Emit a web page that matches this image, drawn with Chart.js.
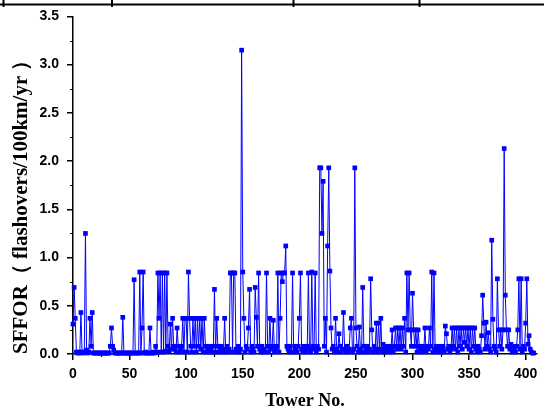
<!DOCTYPE html>
<html>
<head>
<meta charset="utf-8">
<script src="https://cdn.jsdelivr.net/npm/chart.js@4.4.0/dist/chart.umd.min.js"></script>
<style>
  html, body { margin: 0; padding: 0; background: #fff; }
  canvas { display: block; }
</style>
</head>
<body>
<canvas id="chart" width="544" height="412"></canvas>
<script>
// SFFOR per tower, tower number = index (0 .. 407)
const sffor = [
  0.31, 0.69, 0.37, 0.02, 0.01, 0.02, 0.01, 0.43, 0.02, 0.01,
  0.02, 1.25, 0.04, 0.01, 0.02, 0.37, 0.08, 0.43, 0.01, 0.01,
  0.01, 0.01, 0.01, 0.01, 0.01, 0.01, 0.01, 0.01, 0.01, 0.01,
  0.01, 0.01, 0.01, 0.08, 0.27, 0.08, 0.04, 0.01, 0.01, 0.01,
  0.01, 0.01, 0.01, 0.01, 0.38, 0.01, 0.01, 0.01, 0.01, 0.01,
  0.01, 0.01, 0.01, 0.01, 0.77, 0.01, 0.01, 0.01, 0.01, 0.85,
  0.01, 0.27, 0.85, 0.01, 0.02, 0.01, 0.01, 0.01, 0.27, 0.01,
  0.01, 0.02, 0.01, 0.08, 0.02, 0.84, 0.37, 0.84, 0.02, 0.84,
  0.02, 0.84, 0.03, 0.84, 0.08, 0.03, 0.31, 0.05, 0.37, 0.08,
  0.05, 0.02, 0.27, 0.08, 0.02, 0.05, 0.08, 0.37, 0.02, 0.37,
  0.37, 0.02, 0.85, 0.37, 0.08, 0.02, 0.37, 0.08, 0.37, 0.02,
  0.37, 0.08, 0.37, 0.05, 0.37, 0.02, 0.37, 0.08, 0.02, 0.05,
  0.08, 0.02, 0.05, 0.02, 0.08, 0.67, 0.02, 0.37, 0.08, 0.02,
  0.05, 0.08, 0.02, 0.05, 0.37, 0.02, 0.08, 0.02, 0.05, 0.84,
  0.84, 0.02, 0.84, 0.84, 0.05, 0.02, 0.08, 0.02, 0.05, 3.15,
  0.85, 0.37, 0.02, 0.08, 0.05, 0.27, 0.67, 0.02, 0.08, 0.05,
  0.02, 0.69, 0.38, 0.08, 0.84, 0.05, 0.02, 0.08, 0.02, 0.05,
  0.02, 0.84, 0.08, 0.02, 0.37, 0.05, 0.08, 0.35, 0.02, 0.05,
  0.08, 0.84, 0.02, 0.37, 0.84, 0.75, 0.84, 0.84, 1.12, 0.08,
  0.05, 0.02, 0.08, 0.02, 0.84, 0.02, 0.08, 0.05, 0.02, 0.08,
  0.37, 0.84, 0.05, 0.02, 0.08, 0.05, 0.02, 0.08, 0.84, 0.05,
  0.02, 0.85, 0.08, 0.05, 0.84, 0.02, 0.08, 0.05, 1.93, 1.93,
  1.25, 1.79, 0.08, 0.37, 0.02, 1.12, 1.93, 0.86, 0.27, 0.05,
  0.08, 0.02, 0.37, 0.05, 0.02, 0.21, 0.08, 0.02, 0.05, 0.43,
  0.05, 0.02, 0.08, 0.02, 0.05, 0.27, 0.37, 0.02, 0.05, 1.93,
  0.27, 0.08, 0.02, 0.28, 0.05, 0.02, 0.69, 0.08, 0.02, 0.05,
  0.08, 0.02, 0.05, 0.78, 0.25, 0.02, 0.08, 0.05, 0.32, 0.02,
  0.32, 0.05, 0.37, 0.02, 0.10, 0.05, 0.02, 0.08, 0.05, 0.02,
  0.08, 0.05, 0.25, 0.02, 0.08, 0.27, 0.05, 0.27, 0.08, 0.27,
  0.05, 0.27, 0.08, 0.37, 0.02, 0.84, 0.25, 0.84, 0.25, 0.08,
  0.63, 0.25, 0.08, 0.25, 0.02, 0.25, 0.08, 0.05, 0.02, 0.08,
  0.05, 0.27, 0.02, 0.08, 0.05, 0.27, 0.08, 0.85, 0.02, 0.84,
  0.05, 0.08, 0.02, 0.05, 0.08, 0.02, 0.05, 0.08, 0.02, 0.29,
  0.21, 0.05, 0.08, 0.02, 0.05, 0.27, 0.08, 0.27, 0.05, 0.27,
  0.02, 0.27, 0.08, 0.27, 0.05, 0.27, 0.12, 0.27, 0.08, 0.27,
  0.05, 0.27, 0.02, 0.27, 0.08, 0.27, 0.05, 0.02, 0.08, 0.05,
  0.02, 0.19, 0.61, 0.32, 0.05, 0.33, 0.08, 0.22, 0.05, 0.02,
  1.18, 0.36, 0.08, 0.05, 0.02, 0.78, 0.25, 0.08, 0.25, 0.05,
  0.25, 2.13, 0.61, 0.25, 0.08, 0.25, 0.05, 0.10, 0.02, 0.08,
  0.05, 0.02, 0.08, 0.25, 0.78, 0.05, 0.78, 0.02, 0.08, 0.05,
  0.32, 0.78, 0.10, 0.19, 0.05, 0.02, 0.01, 0.01
];

const xMajor = [0, 50, 100, 150, 200, 250, 300, 350, 400];
const xMinor = [25, 75, 125, 175, 225, 275, 325, 375];
const yMajor = [0, 0.5, 1.0, 1.5, 2.0, 2.5, 3.0, 3.5];
const yMinor = [0.25, 0.75, 1.25, 1.75, 2.25, 2.75, 3.25];

const points = sffor.map((v, i) => ({ x: i, y: v }));

// short minor ticks + the cut-off table rule at the top of the picture
const extras = {
  id: 'extras',
  afterDraw(chart) {
    const { ctx, scales: { x, y } } = chart;
    ctx.save();
    ctx.strokeStyle = '#000';
    ctx.lineWidth = 1.2;
    ctx.beginPath();
    yMinor.forEach(v => {
      const py = Math.round(y.getPixelForValue(v)) + 0.5;
      ctx.moveTo(x.left - 3, py);
      ctx.lineTo(x.left, py);
    });
    xMinor.forEach(v => {
      const px = Math.round(x.getPixelForValue(v)) + 0.5;
      ctx.moveTo(px, y.bottom);
      ctx.lineTo(px, y.bottom + 3);
    });
    ctx.stroke();

    ctx.lineWidth = 2;
    ctx.beginPath();
    ctx.moveTo(0, 4.5);
    ctx.lineTo(544, 4.5);
    [3.5, 112, 293.5, 419.5].forEach(px => {
      ctx.moveTo(px, 0);
      ctx.lineTo(px, 7);
    });
    ctx.stroke();
    ctx.restore();
  }
};

const ctx = document.getElementById('chart').getContext('2d');
const chart = new Chart(ctx, {
  type: 'line',
  data: {
    datasets: [{
      data: points,
      borderColor: '#0000ff',
      borderWidth: 1,
      backgroundColor: '#0000ff',
      pointStyle: 'rect',
      pointRadius: 3.3,
      pointBorderWidth: 0,
      tension: 0,
      clip: false
    }]
  },
  options: {
    responsive: false,
    animation: false,
    devicePixelRatio: 1,
    layout: { padding: { top: 16, right: 7, left: 0, bottom: 0 } },
    plugins: {
      legend: { display: false },
      tooltip: { enabled: false }
    },
    scales: {
      x: {
        type: 'linear',
        min: 0,
        max: 410,
        afterBuildTicks: axis => { axis.ticks = xMajor.map(v => ({ value: v })); },
        afterFit: axis => { axis.height = 58; },
        border: { display: true, color: '#000', width: 1.5 },
        grid: { drawOnChartArea: false, drawTicks: true, tickLength: 6, color: '#000', lineWidth: 1.5 },
        ticks: {
          color: '#000',
          padding: 6,
          maxRotation: 0,
          font: { family: 'Liberation Sans, Arial, sans-serif', size: 14, weight: 'bold' }
        },
        title: {
          display: true,
          text: 'Tower No.',
          color: '#000',
          padding: { top: 6, bottom: 0 },
          font: { family: 'Liberation Serif, Times New Roman, serif', size: 18, weight: 'bold' }
        }
      },
      y: {
        min: 0,
        max: 3.5,
        afterBuildTicks: axis => { axis.ticks = yMajor.map(v => ({ value: v })); },
        afterFit: axis => { axis.width = 73; },
        border: { display: true, color: '#000', width: 1.5 },
        grid: { drawOnChartArea: false, drawTicks: true, tickLength: 6, color: '#000', lineWidth: 1.5 },
        ticks: {
          color: '#000',
          padding: 8,
          callback: v => v.toFixed(1),
          font: { family: 'Liberation Sans, Arial, sans-serif', size: 14, weight: 'bold' }
        },
        title: {
          display: true,
          text: 'SFFOR（ flashovers/100km/yr ）',
          align: 'start',
          color: '#000',
          padding: { top: 9, bottom: 0 },
          font: { family: 'Liberation Serif, Times New Roman, serif', size: 21, weight: 'bold' }
        }
      }
    }
  },
  plugins: [extras]
});
</script>
</body>
</html>
